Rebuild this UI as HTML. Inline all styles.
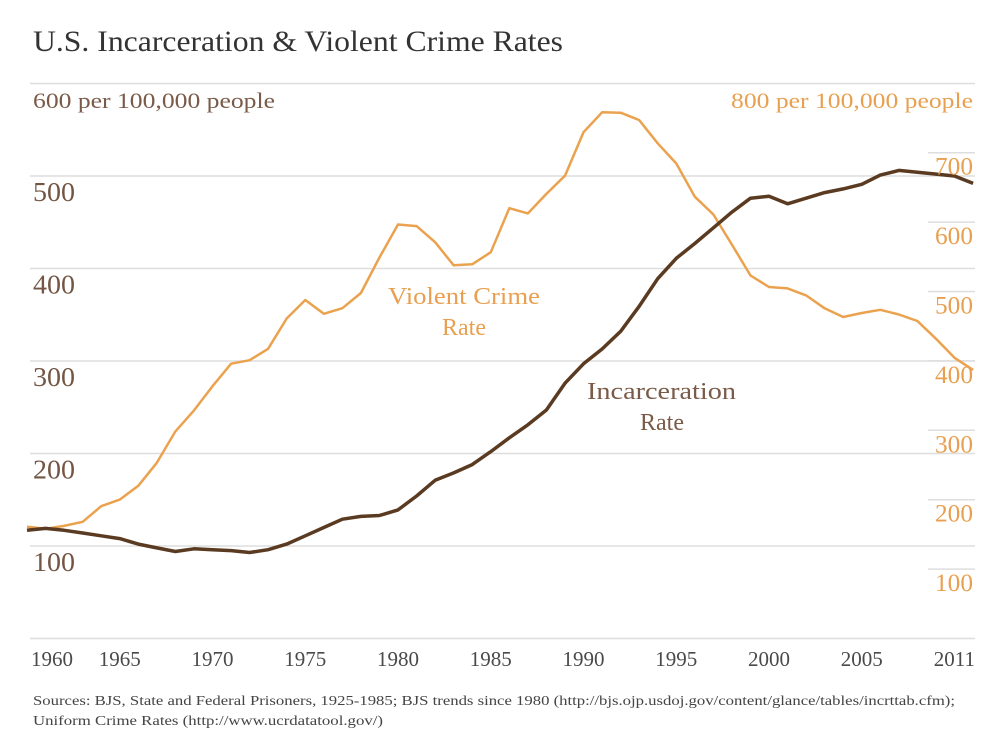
<!DOCTYPE html>
<html><head><meta charset="utf-8"><style>
body{margin:0;background:#fff;}
svg{display:block;font-family:"Liberation Serif",serif;}
</style></head><body>
<svg id="chart" width="990" height="738" viewBox="0 0 990 738">
<text x="33" y="51" font-size="30" fill="#333" textLength="530" lengthAdjust="spacingAndGlyphs">U.S. Incarceration &amp; Violent Crime Rates</text>
<text x="33" y="108" font-size="22" fill="#7a5a48" textLength="242" lengthAdjust="spacingAndGlyphs">600 per 100,000 people</text>
<text x="731" y="108" font-size="22" fill="#e8a050" textLength="242" lengthAdjust="spacingAndGlyphs">800 per 100,000 people</text>
<g id="grid"></g><g id="lines"></g><g id="labels"></g>
<text x="388" y="304" font-size="24" fill="#e8a050" textLength="152" lengthAdjust="spacingAndGlyphs">Violent Crime</text>
<text x="464" y="335" font-size="24" fill="#e8a050" text-anchor="middle">Rate</text>
<text x="587" y="399" font-size="24" fill="#7a5a48" textLength="149" lengthAdjust="spacingAndGlyphs">Incarceration</text>
<text x="662" y="430" font-size="24" fill="#7a5a48" text-anchor="middle">Rate</text>
<text x="33" y="705" font-size="14" fill="#444" textLength="922" lengthAdjust="spacingAndGlyphs">Sources: BJS, State and Federal Prisoners, 1925-1985; BJS trends since 1980 (http://bjs.ojp.usdoj.gov/content/glance/tables/incrttab.cfm);</text>
<text x="33" y="725" font-size="14" fill="#444" textLength="350" lengthAdjust="spacingAndGlyphs">Uniform Crime Rates (http://www.ucrdatatool.gov/)</text>
</svg>
<script>
const years=[];for(let y=1960;y<=2011;y++)years.push(y);
const incarceration=[117,119,117,114,111,108,102,98,94,97,96,95,93,96,102,111,120,129,132,133,139,154,171,179,188,202,217,231,247,276,297,313,332,359,389,411,427,444,461,476,478,470,476,482,486,491,501,506,504,502,500,492];
const violentCrime=[160.9,158.1,162.3,168.2,190.6,200.2,220.0,253.2,298.4,328.7,363.5,396.0,401.0,417.4,461.1,487.8,467.8,475.9,497.8,548.9,596.6,594.3,571.1,537.7,539.2,556.6,620.1,612.5,640.6,666.9,729.6,758.2,757.7,747.1,713.6,684.5,636.6,611.0,567.6,523.0,506.5,504.5,494.4,475.8,463.2,469.0,473.6,466.9,457.5,431.9,404.5,387.1];
const leftTicks=[100,200,300,400,500];
const rightTicks=[100,200,300,400,500,600,700];
const xTicks=[1960,1965,1970,1975,1980,1985,1990,1995,2000,2005,2011];
const NS="http://www.w3.org/2000/svg";
const x=y=>27+(y-1960)*18.55;
const yL=v=>638.5-v*0.925;
const yR=v=>638.5-v*0.694;
function mk(t,a,p){const e=document.createElementNS(NS,t);for(const k in a)e.setAttribute(k,a[k]);p.appendChild(e);return e;}
const grid=document.getElementById('grid'),lines=document.getElementById('lines'),labels=document.getElementById('labels');
[0,100,200,300,400,500,600].forEach(v=>{
 const l=mk('line',{x1:30,x2:975,y1:yL(v),y2:yL(v),stroke:'#dedede','stroke-width':1.5},grid);
 
 
});
leftTicks.forEach(v=>{
 const t=mk('text',{x:33,y:yL(v)+25,'font-size':27,fill:'#735544',textLength:42,lengthAdjust:'spacingAndGlyphs'},labels);t.textContent=v;
 
 
});
rightTicks.forEach(v=>{
 const l=mk('line',{x1:928,x2:975,y1:yR(v),y2:yR(v),stroke:'#dedede','stroke-width':1.5},grid);
 
 
 const t=mk('text',{x:935,y:yR(v)+22,'font-size':25,fill:'#e8a050',textLength:38,lengthAdjust:'spacingAndGlyphs'},labels);t.textContent=v;
 
 
});
xTicks.forEach((yr,i)=>{
 let px=x(yr),anc='middle';
 if(i===0){px=31;anc='start';}
 if(i===xTicks.length-1){px=975;anc='end';}
 const t=mk('text',{x:px,y:666,'font-size':21,fill:'#4a4a4a','text-anchor':anc},labels);t.textContent=yr;
 
 
});
const pc=violentCrime.map((v,i)=>x(years[i]).toFixed(1)+','+yR(v).toFixed(1)).join(' ');
const p1=mk('polyline',{points:pc,fill:'none',stroke:'#eba24e','stroke-width':2.5,'stroke-linejoin':'round'},lines);


const pi=incarceration.map((v,i)=>x(years[i]).toFixed(1)+','+yL(v).toFixed(1)).join(' ');
const p2=mk('polyline',{points:pi,fill:'none',stroke:'#5a3b22','stroke-width':3.5,'stroke-linejoin':'round'},lines);


</script>
</body></html>
